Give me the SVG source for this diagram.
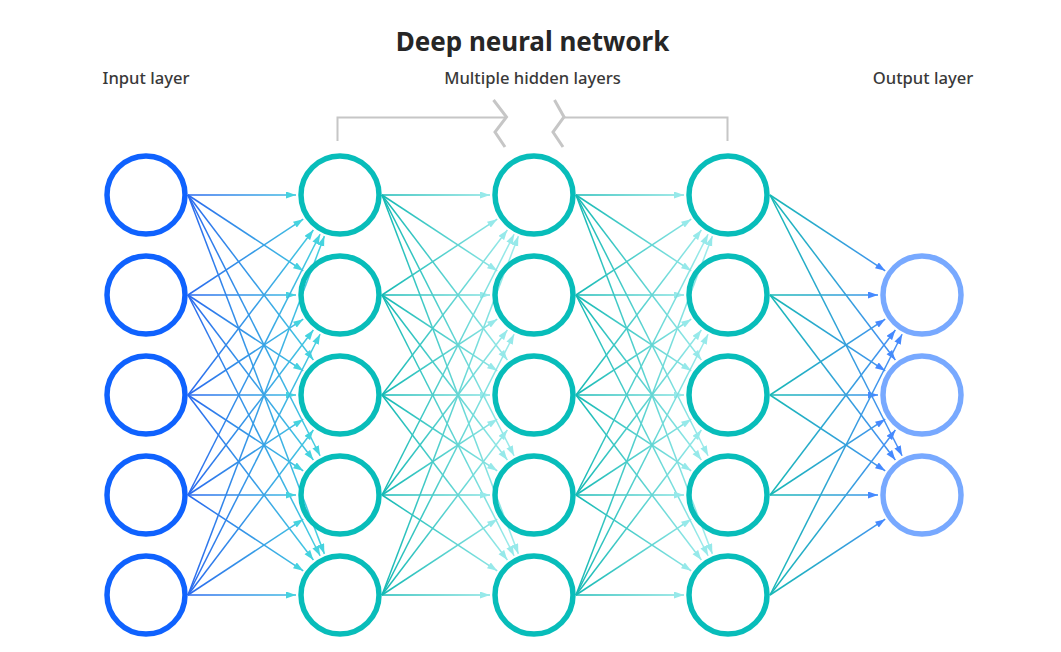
<svg xmlns="http://www.w3.org/2000/svg" width="1061" height="652" viewBox="0 0 1061 652">
  <style>
    .title { font-family: "Noto Sans", "Open Sans", sans-serif; font-size: 26px; font-weight: 700; fill: #262626; text-anchor: middle; }
    .label { font-family: "Noto Sans", "Open Sans", sans-serif; font-size: 16.6px; font-weight: 500; fill: #393939; text-anchor: middle; }
    .node { fill: none; stroke-width: 5.5; }
    .in { stroke: #0f62fe; }
    .hid { stroke: #08bdba; }
    .out { stroke: #78a9ff; }
    .bracket { fill: none; stroke: #c6c6c6; stroke-width: 2; }
    .zig { fill: none; stroke: #c6c6c6; stroke-width: 3; stroke-linejoin: miter; }
    line { stroke-width: 1.5; }
    .pA line { stroke: url(#gA); marker-end: url(#mA); }
    .pB line { stroke: url(#gB); marker-end: url(#mB); }
    .pD line { stroke: url(#gD); marker-end: url(#mD); }
  </style>
  <defs>
    <linearGradient id="gA" gradientUnits="userSpaceOnUse" x1="42" y1="0" x2="178" y2="0">
      <stop offset="0" stop-color="#2a69ee"/>
      <stop offset="1" stop-color="#45d3df"/>
    </linearGradient>
    <linearGradient id="gB" gradientUnits="userSpaceOnUse" x1="42" y1="0" x2="178" y2="0">
      <stop offset="0" stop-color="#14b9b4"/>
      <stop offset="1" stop-color="#a2eded"/>
    </linearGradient>
    <linearGradient id="gD" gradientUnits="userSpaceOnUse" x1="42" y1="0" x2="178" y2="0">
      <stop offset="0" stop-color="#18b9b6"/>
      <stop offset="1" stop-color="#4a8bfa"/>
    </linearGradient>
    <marker id="mA" markerUnits="userSpaceOnUse" markerWidth="11" markerHeight="8" refX="10" refY="3.5" orient="auto">
      <path d="M0,0 L10,3.5 L0,7 z" fill="#45d3df"/>
    </marker>
    <marker id="mB" markerUnits="userSpaceOnUse" markerWidth="11" markerHeight="8" refX="10" refY="3.5" orient="auto">
      <path d="M0,0 L10,3.5 L0,7 z" fill="#96e9ea"/>
    </marker>
    <marker id="mD" markerUnits="userSpaceOnUse" markerWidth="11" markerHeight="8" refX="10" refY="3.5" orient="auto">
      <path d="M0,0 L10,3.5 L0,7 z" fill="#4589ff"/>
    </marker>
  </defs>
  <rect width="1061" height="652" fill="#ffffff"/>

  <g id="labels">
    <text class="title" x="532.5" y="51">Deep neural network</text>
    <text class="label" x="146" y="84">Input layer</text>
    <text class="label" x="532.5" y="84">Multiple hidden layers</text>
    <text class="label" x="923" y="84">Output layer</text>
  </g>

  <g id="bracket">
    <polyline class="bracket" points="337.5,141 337.5,117.5 506,117.5"/>
    <polyline class="bracket" points="564,117.5 727.5,117.5 727.5,141"/>
    <polyline class="zig" points="493.5,100 506.5,117 495,132 505,147"/>
    <polyline class="zig" points="554.5,100 564,117 553,132 563,147"/>
  </g>

  <g id="connectors">
    <g class="pA" transform="translate(146,0)">
      <line x1="42" y1="195" x2="150" y2="195"/>
      <line x1="42" y1="195" x2="157.24" y2="270.82"/>
      <line x1="42" y1="195" x2="167.38" y2="359.97"/>
      <line x1="42" y1="195" x2="174.11" y2="455.75"/>
      <line x1="42" y1="195" x2="178.37" y2="553.87"/>
      <line x1="42" y1="295" x2="157.24" y2="219.18"/>
      <line x1="42" y1="295" x2="150" y2="295"/>
      <line x1="42" y1="295" x2="157.24" y2="370.82"/>
      <line x1="42" y1="295" x2="167.38" y2="459.97"/>
      <line x1="42" y1="295" x2="174.11" y2="555.75"/>
      <line x1="42" y1="395" x2="167.38" y2="230.03"/>
      <line x1="42" y1="395" x2="157.24" y2="319.18"/>
      <line x1="42" y1="395" x2="150" y2="395"/>
      <line x1="42" y1="395" x2="157.24" y2="470.82"/>
      <line x1="42" y1="395" x2="167.38" y2="559.97"/>
      <line x1="42" y1="495" x2="174.11" y2="234.25"/>
      <line x1="42" y1="495" x2="167.38" y2="330.03"/>
      <line x1="42" y1="495" x2="157.24" y2="419.18"/>
      <line x1="42" y1="495" x2="150" y2="495"/>
      <line x1="42" y1="495" x2="157.24" y2="570.82"/>
      <line x1="42" y1="595" x2="178.37" y2="236.13"/>
      <line x1="42" y1="595" x2="174.11" y2="334.25"/>
      <line x1="42" y1="595" x2="167.38" y2="430.03"/>
      <line x1="42" y1="595" x2="157.24" y2="519.18"/>
      <line x1="42" y1="595" x2="150" y2="595"/>
    </g>
    <g class="pB" transform="translate(340,0)">
      <line x1="42" y1="195" x2="150" y2="195"/>
      <line x1="42" y1="195" x2="157.24" y2="270.82"/>
      <line x1="42" y1="195" x2="167.38" y2="359.97"/>
      <line x1="42" y1="195" x2="174.11" y2="455.75"/>
      <line x1="42" y1="195" x2="178.37" y2="553.87"/>
      <line x1="42" y1="295" x2="157.24" y2="219.18"/>
      <line x1="42" y1="295" x2="150" y2="295"/>
      <line x1="42" y1="295" x2="157.24" y2="370.82"/>
      <line x1="42" y1="295" x2="167.38" y2="459.97"/>
      <line x1="42" y1="295" x2="174.11" y2="555.75"/>
      <line x1="42" y1="395" x2="167.38" y2="230.03"/>
      <line x1="42" y1="395" x2="157.24" y2="319.18"/>
      <line x1="42" y1="395" x2="150" y2="395"/>
      <line x1="42" y1="395" x2="157.24" y2="470.82"/>
      <line x1="42" y1="395" x2="167.38" y2="559.97"/>
      <line x1="42" y1="495" x2="174.11" y2="234.25"/>
      <line x1="42" y1="495" x2="167.38" y2="330.03"/>
      <line x1="42" y1="495" x2="157.24" y2="419.18"/>
      <line x1="42" y1="495" x2="150" y2="495"/>
      <line x1="42" y1="495" x2="157.24" y2="570.82"/>
      <line x1="42" y1="595" x2="178.37" y2="236.13"/>
      <line x1="42" y1="595" x2="174.11" y2="334.25"/>
      <line x1="42" y1="595" x2="167.38" y2="430.03"/>
      <line x1="42" y1="595" x2="157.24" y2="519.18"/>
      <line x1="42" y1="595" x2="150" y2="595"/>
    </g>
    <g class="pB" transform="translate(534,0)">
      <line x1="42" y1="195" x2="150" y2="195"/>
      <line x1="42" y1="195" x2="157.24" y2="270.82"/>
      <line x1="42" y1="195" x2="167.38" y2="359.97"/>
      <line x1="42" y1="195" x2="174.11" y2="455.75"/>
      <line x1="42" y1="195" x2="178.37" y2="553.87"/>
      <line x1="42" y1="295" x2="157.24" y2="219.18"/>
      <line x1="42" y1="295" x2="150" y2="295"/>
      <line x1="42" y1="295" x2="157.24" y2="370.82"/>
      <line x1="42" y1="295" x2="167.38" y2="459.97"/>
      <line x1="42" y1="295" x2="174.11" y2="555.75"/>
      <line x1="42" y1="395" x2="167.38" y2="230.03"/>
      <line x1="42" y1="395" x2="157.24" y2="319.18"/>
      <line x1="42" y1="395" x2="150" y2="395"/>
      <line x1="42" y1="395" x2="157.24" y2="470.82"/>
      <line x1="42" y1="395" x2="167.38" y2="559.97"/>
      <line x1="42" y1="495" x2="174.11" y2="234.25"/>
      <line x1="42" y1="495" x2="167.38" y2="330.03"/>
      <line x1="42" y1="495" x2="157.24" y2="419.18"/>
      <line x1="42" y1="495" x2="150" y2="495"/>
      <line x1="42" y1="495" x2="157.24" y2="570.82"/>
      <line x1="42" y1="595" x2="178.37" y2="236.13"/>
      <line x1="42" y1="595" x2="174.11" y2="334.25"/>
      <line x1="42" y1="595" x2="167.38" y2="430.03"/>
      <line x1="42" y1="595" x2="157.24" y2="519.18"/>
      <line x1="42" y1="595" x2="150" y2="595"/>
    </g>
    <g class="pD" transform="translate(728,0)">
      <line x1="42" y1="195" x2="157.24" y2="270.82"/>
      <line x1="42" y1="195" x2="167.38" y2="359.97"/>
      <line x1="42" y1="195" x2="174.11" y2="455.75"/>
      <line x1="42" y1="295" x2="150" y2="295"/>
      <line x1="42" y1="295" x2="157.24" y2="370.82"/>
      <line x1="42" y1="295" x2="167.38" y2="459.97"/>
      <line x1="42" y1="395" x2="157.24" y2="319.18"/>
      <line x1="42" y1="395" x2="150" y2="395"/>
      <line x1="42" y1="395" x2="157.24" y2="470.82"/>
      <line x1="42" y1="495" x2="167.38" y2="330.03"/>
      <line x1="42" y1="495" x2="157.24" y2="419.18"/>
      <line x1="42" y1="495" x2="150" y2="495"/>
      <line x1="42" y1="595" x2="174.11" y2="334.25"/>
      <line x1="42" y1="595" x2="167.38" y2="430.03"/>
      <line x1="42" y1="595" x2="157.24" y2="519.18"/>
    </g>
  </g>

  <g id="input-layer">
    <g id="in1"><circle class="node in" cx="146" cy="195" r="39"/></g>
    <g id="in2"><circle class="node in" cx="146" cy="295" r="39"/></g>
    <g id="in3"><circle class="node in" cx="146" cy="395" r="39"/></g>
    <g id="in4"><circle class="node in" cx="146" cy="495" r="39"/></g>
    <g id="in5"><circle class="node in" cx="146" cy="595" r="39"/></g>
  </g>
  <g id="hidden-layer-1">
    <g id="h1n1"><circle class="node hid" cx="340" cy="195" r="39"/></g>
    <g id="h1n2"><circle class="node hid" cx="340" cy="295" r="39"/></g>
    <g id="h1n3"><circle class="node hid" cx="340" cy="395" r="39"/></g>
    <g id="h1n4"><circle class="node hid" cx="340" cy="495" r="39"/></g>
    <g id="h1n5"><circle class="node hid" cx="340" cy="595" r="39"/></g>
  </g>
  <g id="hidden-layer-2">
    <g id="h2n1"><circle class="node hid" cx="534" cy="195" r="39"/></g>
    <g id="h2n2"><circle class="node hid" cx="534" cy="295" r="39"/></g>
    <g id="h2n3"><circle class="node hid" cx="534" cy="395" r="39"/></g>
    <g id="h2n4"><circle class="node hid" cx="534" cy="495" r="39"/></g>
    <g id="h2n5"><circle class="node hid" cx="534" cy="595" r="39"/></g>
  </g>
  <g id="hidden-layer-3">
    <g id="h3n1"><circle class="node hid" cx="728" cy="195" r="39"/></g>
    <g id="h3n2"><circle class="node hid" cx="728" cy="295" r="39"/></g>
    <g id="h3n3"><circle class="node hid" cx="728" cy="395" r="39"/></g>
    <g id="h3n4"><circle class="node hid" cx="728" cy="495" r="39"/></g>
    <g id="h3n5"><circle class="node hid" cx="728" cy="595" r="39"/></g>
  </g>
  <g id="output-layer">
    <g id="out1"><circle class="node out" cx="922" cy="295" r="39"/></g>
    <g id="out2"><circle class="node out" cx="922" cy="395" r="39"/></g>
    <g id="out3"><circle class="node out" cx="922" cy="495" r="39"/></g>
  </g>
</svg>
